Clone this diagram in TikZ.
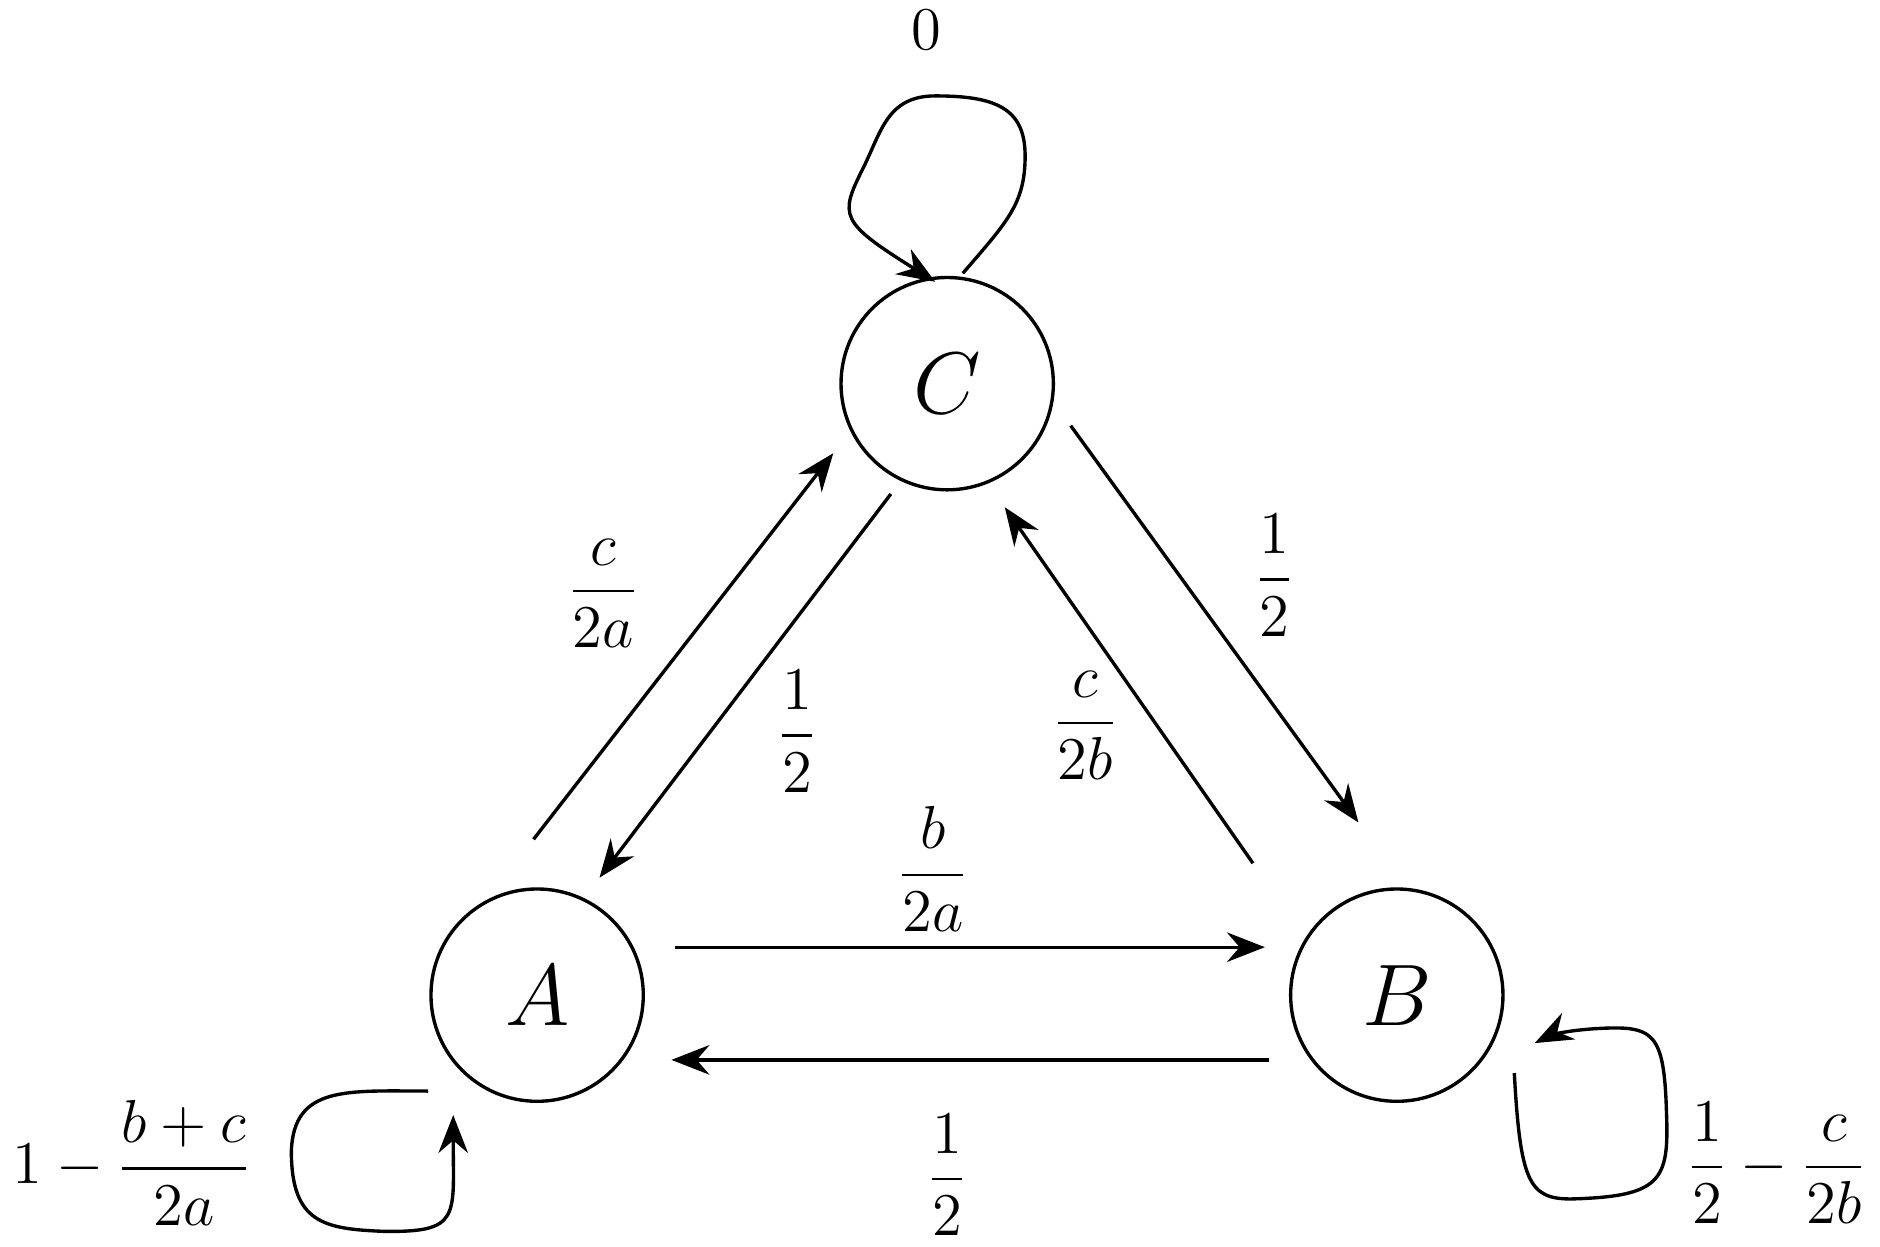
\documentclass[tikz,border=0pt]{standalone}
\usepackage{amsmath}
\usetikzlibrary{arrows.meta}
\begin{document}
\begin{tikzpicture}[x=0.01cm,y=-0.01cm,
  st/.style={circle,draw,line width=0.8pt,minimum size=1.77cm,inner sep=0pt,font=\huge},
  ed/.style={line width=0.8pt,-{Stealth[length=9pt,width=7pt,inset=3pt]}},
  lb/.style={font=\Large}]
\useasboundingbox (0,0) rectangle (1568,1040);
\node[st] (C) at (790,320) {$C$};
\node[st] (A) at (448,830) {$A$};
\node[st] (B) at (1165,830) {$B$};
\coordinate (a1) at (445,700); \coordinate (a2) at (695,378);
\coordinate (b1) at (743,412); \coordinate (b2) at (500,732);
\coordinate (c1) at (893,355); \coordinate (c2) at (1133,686);
\coordinate (d1) at (1045,720); \coordinate (d2) at (838,423);
\coordinate (e1) at (563,790); \coordinate (e2) at (1055,790);
\coordinate (f1) at (1058,884); \coordinate (f2) at (560,884);
\draw[ed] (a1) -- (a2);
\draw[ed] (b1) -- (b2);
\draw[ed] (c1) -- (c2);
\draw[ed] (d1) -- (d2);
\draw[ed] (e1) -- (e2);
\draw[ed] (f1) -- (f2);
\coordinate (cs) at (803,228); \coordinate (ce) at (780,235);
\draw[ed] (cs) .. controls (840,185) and (855,170) .. (855,130)
  .. controls (855,90) and (830,80) .. (780,80)
  .. controls (740,80) and (735,110) .. (720,140)
  .. controls (700,180) and (700,185) .. (780,235);
\coordinate (as) at (357,910); \coordinate (ae) at (378,930);
\draw[ed] (as) .. controls (290,910) and (245,905) .. (243,960)
  .. controls (243,1020) and (270,1025) .. (320,1027)
  .. controls (385,1028) and (378,1015) .. (378,930);
\coordinate (bs) at (1263,895); \coordinate (be) at (1280,870);
\draw[ed] (bs) .. controls (1268,985) and (1275,1000) .. (1310,1000)
  .. controls (1385,998) and (1392,985) .. (1390,930)
  .. controls (1388,860) and (1380,855) .. (1330,858)
  .. controls (1300,860) and (1290,865) .. (1280,870);
\node[lb] (l0) at (773,25) {$0$};
\node[lb] (l1) at (503,495) {$\dfrac{c}{2a}$};
\node[lb] (l2) at (665,610) {$\dfrac{1}{2}$};
\node[lb] (l3) at (1063,480) {$\dfrac{1}{2}$};
\node[lb] (l4) at (905,605) {$\dfrac{c}{2b}$};
\node[lb] (l5) at (778,725) {$\dfrac{b}{2a}$};
\node[lb] (l6) at (790,980) {$\dfrac{1}{2}$};
\node[lb] (l7) at (110,970) {$1-\dfrac{b+c}{2a}$};
\node[lb] (l8) at (1482,970) {$\dfrac{1}{2}-\dfrac{c}{2b}$};
\end{tikzpicture}
\end{document}
